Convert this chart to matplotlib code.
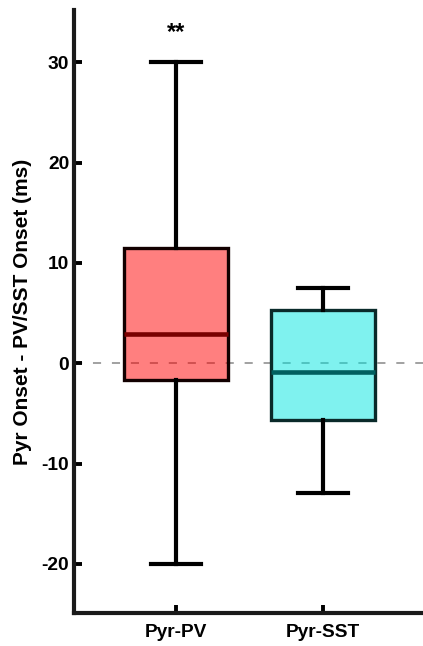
import matplotlib.pyplot as plt
from matplotlib.colors import to_rgba

plt.rcParams["font.family"] = ["Liberation Sans", "DejaVu Sans"]
plt.rcParams["font.weight"] = "bold"
plt.rcParams["axes.unicode_minus"] = False

groups = ["Pyr-PV", "Pyr-SST"]
whislo = [-20.0, -12.9]
q1 = [-1.7, -5.7]
med = [2.9, -0.9]
q3 = [11.5, 5.3]
whishi = [30.0, 7.5]
fills = [to_rgba("#ff0000", 0.5), to_rgba("#00e6e0", 0.5)]
edges = ["#120000", "#0a2a2a"]
med_colors = ["#7a0000", "#006060"]

stats = []
for i, g in enumerate(groups):
    stats.append(dict(label=g, whislo=whislo[i], q1=q1[i], med=med[i],
                      q3=q3[i], whishi=whishi[i], fliers=[]))

fig = plt.figure(figsize=(4.23, 6.46), dpi=100)
ax = fig.add_axes([0.175, 0.051, 0.825, 0.9335])

ax.axhline(0, color="#9a9a9a", lw=1.3, ls=(0, (4.5, 6)), zorder=1)

bp = ax.bxp(stats, positions=[1, 2], widths=0.71, patch_artist=True,
            showfliers=False,
            whiskerprops=dict(color="black", lw=3.0),
            capprops=dict(color="black", lw=3.0),
            medianprops=dict(lw=3.3), capwidths=0.34)
for i, box in enumerate(bp["boxes"]):
    box.set_facecolor(fills[i])
    box.set_edgecolor(edges[i])
    box.set_linewidth(2.4)
    box.set_zorder(2)
for i, m in enumerate(bp["medians"]):
    m.set_color(med_colors[i])
    m.set_zorder(4)

ax.text(1, 33.0, "**", ha="center", va="center", fontsize=17, fontweight="bold")

ax.set_ylim(-24.9, 35.2)
ax.set_xlim(0.306, 2.68)
ax.set_yticks([-20, -10, 0, 10, 20, 30])
ax.set_xticks([1, 2])
ax.set_xticklabels(groups)
ax.set_ylabel("Pyr Onset - PV/SST Onset (ms)", fontsize=15, fontweight="bold", labelpad=7)
ax.tick_params(direction="in", length=6, width=2.8, labelsize=13.8)
ax.tick_params(axis="x", pad=8)
for s in ["top", "right"]:
    ax.spines[s].set_visible(False)
for s in ["left", "bottom"]:
    ax.spines[s].set_linewidth(3)
    ax.spines[s].set_color("#1a1a1a")

fig.savefig("out.png", dpi=100)
